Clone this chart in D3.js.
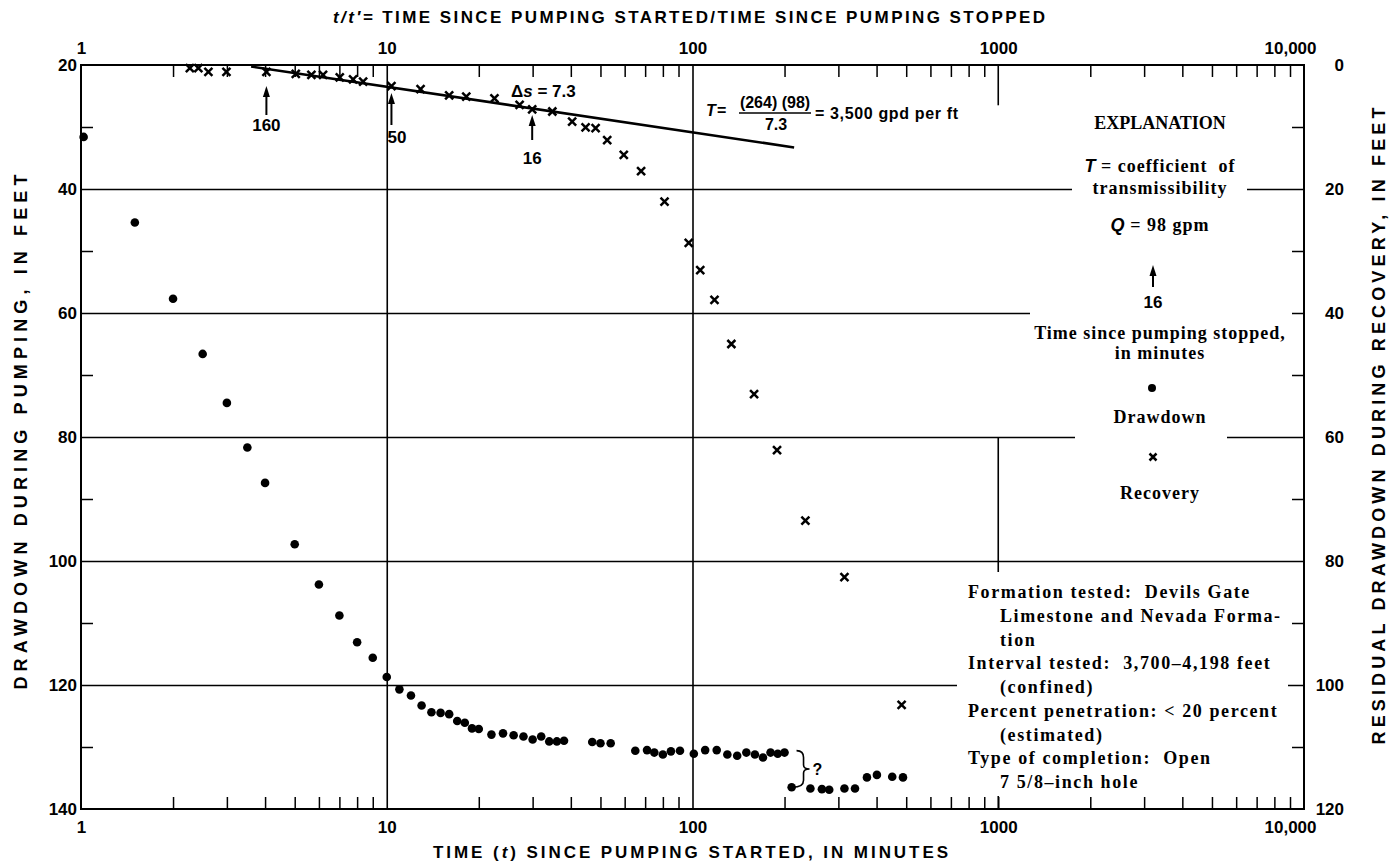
<!DOCTYPE html>
<html><head><meta charset="utf-8">
<script src="https://cdn.jsdelivr.net/npm/d3@7"></script>
<style>body{margin:0;background:#fff}svg{display:block}text{white-space:pre}</style>
</head><body>
<svg id="c" width="1391" height="862"></svg>
<script>
// ---------------- data ----------------
const drawdownTime = [1.02, 1.5, 2, 2.5, 3, 3.5, 4, 5, 6, 7, 8, 9, 10, 11, 12, 13, 14, 15, 16, 17, 18, 19, 20, 22, 24, 26, 28, 30, 32, 34, 36, 38, 47, 50, 54, 65, 71, 75, 80, 85, 91, 101, 110, 120, 130, 140, 150, 160, 170, 180, 190, 200, 211, 243, 265, 280, 314, 340, 372, 401, 450, 488];
const drawdownFeet = [31.6, 45.4, 57.7, 66.6, 74.5, 81.7, 87.4, 97.3, 103.8, 108.8, 113.1, 115.6, 118.7, 120.7, 121.7, 123.3, 124.4, 124.5, 124.7, 125.8, 126.1, 127.0, 127.1, 128.0, 127.8, 128.1, 128.3, 128.8, 128.3, 129.1, 129.1, 129.0, 129.2, 129.4, 129.4, 130.6, 130.5, 130.9, 131.2, 130.7, 130.6, 131.1, 130.5, 130.5, 131.2, 131.4, 130.9, 131.2, 131.7, 130.9, 131.1, 130.9, 136.5, 136.7, 136.8, 136.9, 136.7, 136.7, 134.9, 134.5, 134.8, 134.9];
const recoveryRatio = [2.27, 2.42, 2.61, 2.99, 4.04, 5.04, 5.67, 6.19, 7.02, 7.76, 8.37, 10.36, 12.9, 16.0, 18.2, 22.5, 27.2, 29.9, 34.8, 40.4, 44.7, 48.2, 52.6, 59.6, 67.9, 81.0, 97.2, 106, 118, 134, 159, 189, 234, 314, 483];
const recoveryFeet = [0.5, 0.5, 1.1, 1.1, 1.1, 1.45, 1.6, 1.6, 2.0, 2.3, 2.7, 3.4, 3.9, 4.9, 5.1, 5.4, 6.45, 7.15, 7.5, 9.15, 10.05, 10.2, 12.1, 14.5, 17.1, 22.05, 28.7, 33.1, 37.9, 45.0, 53.1, 62.1, 73.5, 82.6, 103.2];
const fitRatio = [3.6, 215];
const fitFeet = [0.25, 13.3];
const arrowRatios = [4.04, 10.36, 29.9];
const arrowLabels = ["160", "50", "16"];
const xTickValues = [1, 10, 100, 1000, 10000];
const xTickLabels = ["1", "10", "100", "1000", "10,000"];
const leftTickValues = [20, 40, 60, 80, 100, 120, 140];
const rightTickValues = [0, 20, 40, 60, 80, 100, 120];
const topTitle = "TIME SINCE PUMPING STARTED/TIME SINCE PUMPING STOPPED";
const bottomTitle = "TIME (t) SINCE PUMPING STARTED, IN MINUTES";
const leftTitle = "DRAWDOWN DURING PUMPING, IN FEET";
const rightTitle = "RESIDUAL DRAWDOWN DURING RECOVERY, IN FEET";
const infoLines = [
  ["Formation tested:  Devils Gate", 0],
  ["Limestone and Nevada Forma-", 1],
  ["tion", 1],
  ["Interval tested:  3,700\u20134,198 feet", 0],
  ["(confined)", 1],
  ["Percent penetration: < 20 percent", 0],
  ["(estimated)", 1],
  ["Type of completion:  Open", 0],
  ["7 5/8\u2013inch hole", 1]
];

// ---------------- setup ----------------
const SANS = "'Liberation Sans', Arial, Helvetica, sans-serif";
const SERIF = "'Liberation Serif', 'Times New Roman', serif";
const svg = d3.select("#c");
const L = 81, R = 1304, T = 65, B = 809;
const x = d3.scaleLog().domain([1, 10000]).range([L, R]);
const yL = d3.scaleLinear().domain([20, 140]).range([T, B]);
const yR = d3.scaleLinear().domain([0, 120]).range([T, B]);

function styleAxis(sel, w) {
  sel.select(".domain").remove();
  sel.selectAll(".tick line").attr("stroke", "#000").attr("stroke-width", w);
}

// minor x ticks
const minor = [];
for (let k = 0; k < 4; k++) for (let m = 2; m <= 9; m++) minor.push(m * Math.pow(10, k));
svg.append("g").attr("transform", `translate(0,${B})`)
  .call(d3.axisBottom(x).tickValues(minor.concat([1000])).tickSize(-12).tickFormat(""))
  .call(s => styleAxis(s, 1.5));
svg.append("g").attr("transform", `translate(0,${T})`)
  .call(d3.axisTop(x).tickValues(minor).tickSize(-12).tickFormat(""))
  .call(s => styleAxis(s, 1.5));

// vertical gridlines 10, 100
svg.append("g").attr("transform", `translate(0,${B})`)
  .call(d3.axisBottom(x).tickValues([10, 100]).tickSize(-(B - T)).tickFormat(""))
  .call(s => styleAxis(s, 1.6));
// 1000 gridline (drawn in parts as in the original)
[[20, 26.5], [80, 140]].forEach(([a, b]) => {
  svg.append("line").attr("x1", x(1000)).attr("x2", x(1000))
    .attr("y1", yL(a)).attr("y2", yL(b)).attr("stroke", "#000").attr("stroke-width", 1.6);
});

// horizontal gridlines
svg.append("g").attr("transform", `translate(${L},0)`)
  .call(d3.axisLeft(yL).tickValues([40, 60, 80, 100, 120]).tickSize(-(R - L)).tickFormat(""))
  .call(s => styleAxis(s, 1.6));
// y minor ticks
svg.append("g").attr("transform", `translate(${L},0)`)
  .call(d3.axisLeft(yL).tickValues([30, 50, 70, 90, 110, 130]).tickSize(-12).tickFormat(""))
  .call(s => styleAxis(s, 1.5));
svg.append("g").attr("transform", `translate(${R},0)`)
  .call(d3.axisRight(yR).tickValues([10, 30, 50, 70, 90, 110]).tickSize(-12).tickFormat(""))
  .call(s => styleAxis(s, 1.5));

// white gaps in gridlines around the explanation text
const gaps = [[1072, 1247, 40], [1030, 1292, 60], [1075, 1227, 80], [957, 1288, 120]];
gaps.forEach(([a, b, v]) => {
  svg.append("rect").attr("x", a).attr("width", b - a).attr("y", yL(v) - 4).attr("height", 8).attr("fill", "#fff");
});
svg.append("rect").attr("x", 957).attr("width", 331).attr("y", 572).attr("height", 224).attr("fill", "#fff");

// border
svg.append("rect").attr("x", L).attr("y", T).attr("width", R - L).attr("height", B - T)
  .attr("fill", "none").attr("stroke", "#000").attr("stroke-width", 2);

// tick labels
const fmtX = d => xTickLabels[xTickValues.indexOf(d)];
function xLabels(sel) {
  sel.select(".domain").remove();
  sel.selectAll(".tick line").remove();
  sel.selectAll("text").attr("font-family", SANS).attr("font-weight", "bold").attr("font-size", 17).attr("fill", "#000");
  sel.selectAll(".tick").filter(d => d === 10000).select("text").attr("dx", -14);
}
svg.append("g").attr("transform", `translate(0,${T})`)
  .call(d3.axisTop(x).tickValues(xTickValues).tickSize(0).tickPadding(11).tickFormat(fmtX)).call(xLabels);
svg.append("g").attr("transform", `translate(0,${B})`)
  .call(d3.axisBottom(x).tickValues(xTickValues).tickSize(0).tickPadding(12).tickFormat(fmtX)).call(xLabels);
function yLabels(sel) {
  sel.select(".domain").remove();
  sel.selectAll(".tick line").remove();
  sel.selectAll("text").attr("font-family", SANS).attr("font-weight", "bold").attr("font-size", 17).attr("fill", "#000");
}
svg.append("g").attr("transform", `translate(${L},0)`)
  .call(d3.axisLeft(yL).tickValues(leftTickValues).tickSize(0).tickPadding(4).tickFormat(d3.format("d"))).call(yLabels);
svg.append("g").attr("transform", `translate(${R},0)`)
  .call(d3.axisRight(yR).tickValues(rightTickValues).tickSize(0).tickPadding(0).tickFormat(d3.format("d"))).call(yLabels)
  .call(s => s.selectAll("text").attr("text-anchor", "end").attr("x", 40));

// axis titles
const tt = svg.append("text").attr("x", 333).attr("y", 23).attr("textLength", 712)
  .attr("font-family", SANS).attr("font-weight", "bold").attr("font-size", 17);
tt.append("tspan").attr("font-style", "italic").text("t/t\u2032= ");
tt.append("tspan").text(topTitle);
const bt = svg.append("text").attr("x", 433).attr("y", 858).attr("textLength", 515)
  .attr("font-family", SANS).attr("font-weight", "bold").attr("font-size", 17);
bt.append("tspan").text("TIME (");
bt.append("tspan").attr("font-style", "italic").text("t");
bt.append("tspan").text(") SINCE PUMPING STARTED, IN MINUTES");
svg.append("text").attr("transform", "translate(27,432) rotate(-90)").attr("text-anchor", "middle")
  .attr("textLength", 515).attr("font-family", SANS).attr("font-weight", "bold").attr("font-size", 18).text(leftTitle);
svg.append("text").attr("transform", "translate(1385,426) rotate(-90)").attr("text-anchor", "middle")
  .attr("textLength", 637).attr("font-family", SANS).attr("font-weight", "bold").attr("font-size", 18).text(rightTitle);

// fitted straight line
const fit = fitRatio.map((r, i) => [r, fitFeet[i]]);
svg.append("path").datum(fit).attr("fill", "none").attr("stroke", "#000").attr("stroke-width", 2.6)
  .attr("d", d3.line().x(d => x(d[0])).y(d => yR(d[1])));

// markers
function cross(sel, s) {
  sel.append("path").attr("d", `M${-s},${-s}L${s},${s}M${-s},${s}L${s},${-s}`)
    .attr("stroke", "#000").attr("stroke-width", 2.5).attr("fill", "none");
}
const dd = drawdownTime.map((t, i) => [t, drawdownFeet[i]]);
svg.append("g").selectAll("circle").data(dd).join("circle")
  .attr("cx", d => x(d[0])).attr("cy", d => yL(d[1])).attr("r", 4.3).attr("fill", "#000");
const rc = recoveryRatio.map((t, i) => [t, recoveryFeet[i]]);
svg.append("g").selectAll("g").data(rc).join("g")
  .attr("transform", d => `translate(${x(d[0])},${yR(d[1])})`).each(function () { cross(d3.select(this), 4); });

// arrows
function arrow(px, yTop, yBot) {
  svg.append("line").attr("x1", px).attr("x2", px).attr("y1", yTop + 8).attr("y2", yBot)
    .attr("stroke", "#000").attr("stroke-width", 2);
  svg.append("path").attr("d", `M${px},${yTop}L${px - 3.5},${yTop + 11}L${px + 3.5},${yTop + 11}Z`).attr("fill", "#000");
}
const arrowGeo = [[86, 115, 125, "middle", 0], [93, 125, 137, "start", -4], [115, 140, 158, "middle", 0]];
arrowRatios.forEach((r, i) => {
  const [a, b, ly, anc, dx] = arrowGeo[i];
  const px = x(r);
  arrow(px, a, b);
  svg.append("text").attr("x", px + dx).attr("y", ly).attr("dy", "0.35em").attr("text-anchor", anc)
    .attr("font-family", SANS).attr("font-weight", "bold").attr("font-size", 17).text(arrowLabels[i]);
});

// delta s
const ds = svg.append("text").attr("x", 511).attr("y", 97).attr("font-family", SANS).attr("font-weight", "bold").attr("font-size", 17);
ds.append("tspan").text("\u0394");
ds.append("tspan").attr("font-style", "italic").text("s");
ds.append("tspan").text(" = 7.3");

// T formula
svg.append("text").attr("x", 706).attr("y", 116).attr("font-family", SANS).attr("font-weight", "bold")
  .attr("font-size", 16).attr("font-style", "italic").text("T");
svg.append("text").attr("x", 717).attr("y", 116).attr("font-family", SANS).attr("font-weight", "bold")
  .attr("font-size", 16).text("=");
svg.append("text").attr("x", 775).attr("y", 108).attr("text-anchor", "middle").attr("font-family", SANS)
  .attr("font-weight", "bold").attr("font-size", 16).text("(264) (98)");
svg.append("line").attr("x1", 739).attr("x2", 811).attr("y1", 113).attr("y2", 113).attr("stroke", "#000").attr("stroke-width", 1.6);
svg.append("text").attr("x", 776).attr("y", 130).attr("text-anchor", "middle").attr("font-family", SANS)
  .attr("font-weight", "bold").attr("font-size", 16).text("7.3");
svg.append("text").attr("x", 815).attr("y", 119).attr("font-family", SANS).attr("font-weight", "bold")
  .attr("font-size", 16).attr("textLength", 143).text("= 3,500 gpd per ft");

// brace + question mark
const bx = x(200) + 12, by0 = yL(130.9) - 2, by1 = yL(136.5);
const bm = (by0 + by1) / 2;
svg.append("path").attr("fill", "none").attr("stroke", "#000").attr("stroke-width", 1.6)
  .attr("d", `M${bx},${by0} Q${bx + 7},${by0} ${bx + 7},${by0 + 7} L${bx + 7},${bm - 4} Q${bx + 7},${bm} ${bx + 13},${bm} Q${bx + 7},${bm} ${bx + 7},${bm + 4} L${bx + 7},${by1 - 7} Q${bx + 7},${by1} ${bx - 4},${by1}`);
svg.append("text").attr("x", bx + 16).attr("y", bm).attr("dy", "0.35em").attr("font-family", SANS)
  .attr("font-weight", "bold").attr("font-size", 16).text("?");

// explanation
const cx = 1160;
function serif(y, opts = {}) {
  return svg.append("text").attr("x", opts.x ?? cx).attr("y", y).attr("dy", "0.35em")
    .attr("text-anchor", opts.anchor ?? "middle").attr("font-family", SERIF).attr("font-weight", "bold")
    .attr("font-size", opts.size ?? 18).attr("letter-spacing", opts.ls ?? 1);
}
serif(123, { size: 18, ls: 0 }).text("EXPLANATION");
const tl = serif(166);
tl.append("tspan").attr("font-family", SANS).attr("font-style", "italic").attr("letter-spacing", 0).text("T");
tl.append("tspan").text(" = coefficient  of");
serif(188).text("transmissibility");
const ql = serif(225);
ql.append("tspan").attr("font-family", SANS).attr("font-style", "italic").attr("letter-spacing", 0).text("Q");
ql.append("tspan").text(" = 98 gpm");
arrow(1153, 265, 287);
svg.append("text").attr("x", 1153).attr("y", 302).attr("dy", "0.35em").attr("text-anchor", "middle")
  .attr("font-family", SANS).attr("font-weight", "bold").attr("font-size", 17).text("16");
serif(333).text("Time since pumping stopped,");
serif(353).text("in minutes");
svg.append("circle").attr("cx", 1152).attr("cy", 388).attr("r", 4).attr("fill", "#000");
serif(417).text("Drawdown");
cross(svg.append("g").attr("transform", "translate(1153,457)"), 3.5);
serif(493).text("Recovery");

// information block
infoLines.forEach(([txt, ind], i) => {
  serif(592 + i * 23.7, { x: ind ? 1000 : 968, anchor: "start", ls: 1.6 }).text(txt);
});
</script>
</body></html>
